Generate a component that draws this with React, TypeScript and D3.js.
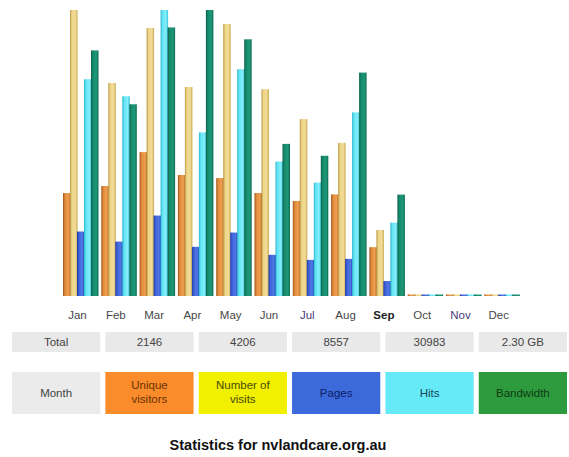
import React from 'react';
import * as d3 from 'd3';

const months = ['Jan', 'Feb', 'Mar', 'Apr', 'May', 'Jun', 'Jul', 'Aug', 'Sep', 'Oct', 'Nov', 'Dec'];
const visitors = [234, 250, 327, 275, 268, 234, 216, 231, 111, 0, 0, 0];
const visits = [650, 484, 609, 475, 618, 470, 402, 348, 150, 0, 0, 0];
const pages = [1250, 1055, 1560, 954, 1230, 798, 700, 720, 290, 0, 0, 0];
const hits = [4203, 3873, 5546, 3172, 4398, 2608, 2199, 3561, 1423, 0, 0, 0];
const bandwidthMB = [310, 242, 339, 361, 324, 192, 177, 282, 128, 0, 0, 0];

const totalLabels = ['Total', '2146', '4206', '8557', '30983', '2.30 GB'];
const legendLabels = [['Month'], ['Unique', 'visitors'], ['Number of', 'visits'], ['Pages'], ['Hits'], ['Bandwidth']];
const legendFills = ['#ebebeb', '#fb8c2c', '#f0f000', '#3c6ada', '#66eaf8', '#2e9a3e'];
const legendText = ['#444', '#6a3200', '#4a4a00', '#0c1e66', '#14465a', '#0e3a12'];

const seriesKeys = ['visitors', 'visits', 'pages', 'hits', 'bandwidth'];
const gradStops: Record<string, string[]> = {
  visitors: ['#9c5418', '#e08a3a', '#eea050', '#c06c22'],
  visits: ['#b89640', '#ecd488', '#f2dc96', '#c8aa50'],
  pages: ['#1c38a8', '#3e62d8', '#5078e4', '#2a48bc'],
  hits: ['#28b4cc', '#62e4f4', '#84eefa', '#38c4dc'],
  bandwidth: ['#0a5e48', '#168a6c', '#1e9878', '#0e6c52'],
};

const W = 569;
const H = 457;
const base = 296;
const top = 10;

export default function App() {
  const x = d3.scaleBand<string>().domain(months).range([63, 519.3]).paddingInner(0.086).paddingOuter(0);
  const inner = d3.scaleBand<string>().domain(seriesKeys).range([0, x.bandwidth()]).padding(0);

  // visitors & visits share a scale, pages & hits share one, bandwidth has its own
  const yV = d3.scaleLinear().domain([0, d3.max(visits)!]).range([base, top]);
  const yH = d3.scaleLinear().domain([0, d3.max(hits)!]).range([base, top]);
  const yB = d3.scaleLinear().domain([0, d3.max(bandwidthMB)!]).range([base, top]);

  const series = [
    { key: 'visitors', values: visitors, y: yV },
    { key: 'visits', values: visits, y: yV },
    { key: 'pages', values: pages, y: yH },
    { key: 'hits', values: hits, y: yH },
    { key: 'bandwidth', values: bandwidthMB, y: yB },
  ];

  const cols = d3.scaleBand<number>().domain(d3.range(6)).range([12, 567]).paddingInner(0.055).paddingOuter(0);

  const font = "'Liberation Sans', Arial, sans-serif";

  return (
    <svg width={W} height={H} style={{ position: 'absolute', left: 0, top: 0, background: '#fff' }}>
      <defs>
        {seriesKeys.map(k => (
          <linearGradient key={k} id={`g-${k}`} x1="0" x2="1" y1="0" y2="0">
            <stop offset="0" stopColor={gradStops[k][0]} />
            <stop offset="0.25" stopColor={gradStops[k][1]} />
            <stop offset="0.7" stopColor={gradStops[k][2]} />
            <stop offset="1" stopColor={gradStops[k][3]} />
          </linearGradient>
        ))}
      </defs>

      {/* bars */}
      {months.map((m, i) => (
        <g key={m} transform={`translate(${x(m)},0)`}>
          {series.map(s => {
            const v = s.values[i];
            const yTop = Math.min(s.y(v), base - 1.5);
            return (
              <rect
                key={s.key}
                x={inner(s.key)!}
                y={yTop}
                width={inner.bandwidth() + 0.5}
                height={base - yTop}
                fill={`url(#g-${s.key})`}
              />
            );
          })}
        </g>
      ))}

      {/* month labels */}
      {months.map(m => (
        <text
          key={m}
          x={x(m)! + x.bandwidth() / 2 - 3}
          y={319}
          textAnchor="middle"
          fontFamily={font}
          fontSize={11.5}
          fontWeight={m === 'Sep' ? 'bold' : 'normal'}
          fill={m === 'Sep' ? '#222' : m === 'Jul' || m === 'Nov' ? '#4a3a78' : '#484848'}
        >
          {m}
        </text>
      ))}

      {/* total row */}
      {totalLabels.map((t, i) => (
        <g key={i}>
          <rect x={cols(i)!} y={332} width={cols.bandwidth()} height={20} fill="#e9e9e9" />
          <text
            x={cols(i)! + cols.bandwidth() / 2}
            y={346}
            textAnchor="middle"
            fontFamily={font}
            fontSize={11.5}
            fill="#444"
          >
            {t}
          </text>
        </g>
      ))}

      {/* legend row */}
      {legendLabels.map((lines, i) => (
        <g key={i}>
          <rect x={cols(i)!} y={372} width={cols.bandwidth()} height={42} fill={legendFills[i]} />
          {lines.map((l, j) => (
            <text
              key={j}
              x={cols(i)! + cols.bandwidth() / 2}
              y={lines.length === 1 ? 397 : 389 + j * 14}
              textAnchor="middle"
              fontFamily={font}
              fontSize={11.5}
              fill={legendText[i]}
            >
              {l}
            </text>
          ))}
        </g>
      ))}

      <text
        x={278}
        y={450}
        textAnchor="middle"
        fontFamily={font}
        fontSize={14.5}
        fontWeight="bold"
        fill="#111"
      >
        Statistics for nvlandcare.org.au
      </text>
    </svg>
  );
}
